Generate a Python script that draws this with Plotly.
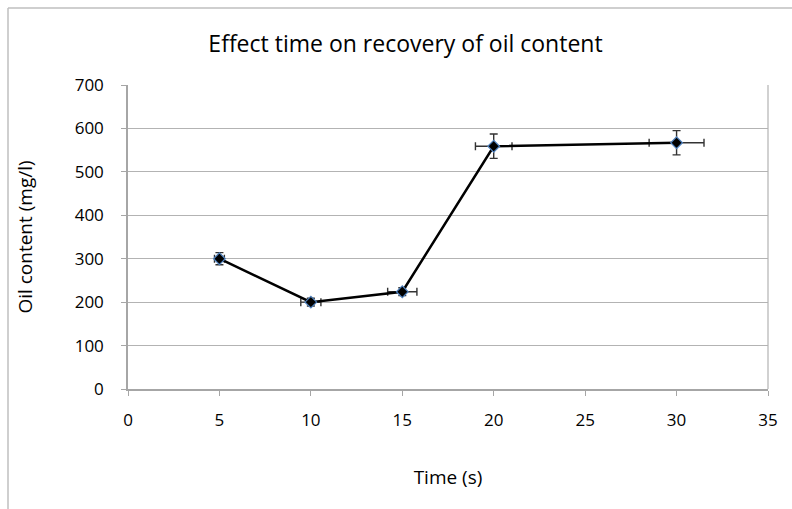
import plotly.graph_objects as go

# Recovery of oil content versus time
time_s = [5, 10, 15, 20, 30]
oil_mg_l = [300, 200, 224, 559, 567]
err_time = [0.27, 0.55, 0.8, 1.0, 1.5]
err_oil = [14, 9, 9, 28, 28]

title_text = "Effect time on recovery of oil content"
x_title = "Time (s)"
y_title = "Oil content (mg/l)"
x_ticks = [0, 5, 10, 15, 20, 25, 30, 35]
y_ticks = [0, 100, 200, 300, 400, 500, 600, 700]

FONT = "Open Sans"

fig = go.Figure()
fig.add_trace(go.Scatter(
    x=time_s,
    y=oil_mg_l,
    mode="lines+markers",
    line=dict(color="black", width=2.5),
    marker=dict(symbol="diamond", size=9, color="black",
                line=dict(color="#4f81bd", width=1.2)),
    error_x=dict(type="data", array=err_time, visible=True,
                 color="#333333", thickness=1.4, width=4),
    error_y=dict(type="data", array=err_oil, visible=True,
                 color="#333333", thickness=1.4, width=4),
    showlegend=False,
))

axis_line = "#a6a6a6"
fig.update_layout(
    width=792, height=509,
    margin=dict(l=128, r=24, t=85, b=120),
    paper_bgcolor="white",
    plot_bgcolor="white",
    font=dict(family=FONT, color="black"),
    title=dict(text=title_text, x=0.512, xanchor="center", y=0.913,
               yanchor="middle", font=dict(size=23, family=FONT, color="black")),
    xaxis=dict(
        range=[0, 35], tickvals=x_ticks, ticks="outside", ticklen=5,
        tickcolor=axis_line, showline=True, linecolor=axis_line, linewidth=1.5,
        mirror=False, showgrid=False, zeroline=False, ticklabelstandoff=10,
        tickfont=dict(size=17, family=FONT, color="black"),
        title=dict(text=x_title, font=dict(size=19, family=FONT), standoff=41),
    ),
    yaxis=dict(
        range=[0, 700], tickvals=y_ticks, ticks="outside", ticklen=5,
        tickcolor=axis_line, showline=True, linecolor=axis_line, linewidth=1.5,
        showgrid=True, gridcolor="#b3b3b3", gridwidth=1.2, zeroline=False,
        ticklabelstandoff=14,
        tickfont=dict(size=17, family=FONT, color="black"),
        title=dict(text=y_title, font=dict(size=19, family=FONT), standoff=37),
    ),
    shapes=[
        # right edge of plotting area
        dict(type="line", xref="paper", yref="paper", x0=1, x1=1, y0=0, y1=1,
             line=dict(color="#b3b3b3", width=1.2)),
        # outer chart frame (left and top edges)
        dict(type="line", xref="paper", yref="paper", x0=-0.1875, x1=-0.1875,
             y0=-0.40, y1=1.253, line=dict(color="#bfbfbf", width=1.5)),
        dict(type="line", xref="paper", yref="paper", x0=-0.1875, x1=1.04,
             y0=1.253, y1=1.253, line=dict(color="#bfbfbf", width=1.5)),
    ],
)

fig.write_html("out.html")
